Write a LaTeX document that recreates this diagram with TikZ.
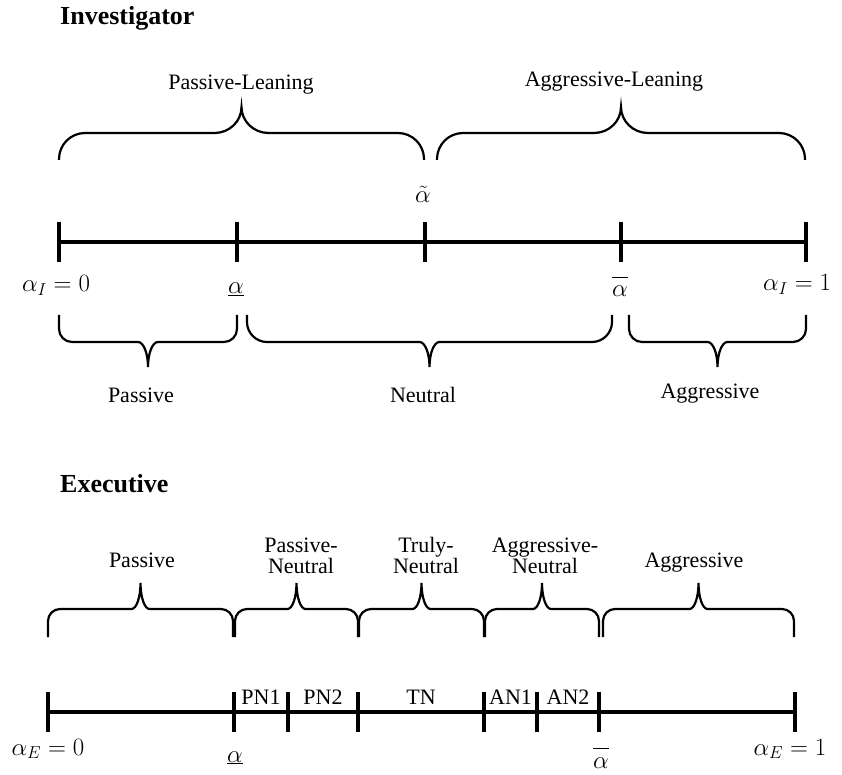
\documentclass[tikz,border=0pt]{standalone}
\usepackage{fontspec}
\setmainfont{Liberation Serif}

% curly bracket: x1, x2, y of the ends, y of the arm, y of the tip, corner, tip width
\newcommand{\hbrace}[7]{%
  \pgfmathsetmacro\brXm{(#1+#2)/2}
  \pgfmathsetmacro\brCy{#4-ifthenelse(#4>#3,1,-1)*#6}
  \pgfmathsetmacro\brCv{.55*(#4-\brCy)}
  \pgfmathsetmacro\brCh{.55*#6}
  \pgfmathsetmacro\brTd{.55*(#4-#5)}
  \pgfmathsetmacro\brTh{.55*#7}
  \draw[brc] (#1,#3) -- (#1,\brCy) .. controls +(0,\brCv) and +(-\brCh,0) .. (#1+#6,#4)
    -- (\brXm-#7,#4) .. controls +(\brTh,0) and +(0,\brTd) .. (\brXm,#5)
    .. controls +(0,\brTd) and +(-\brTh,0) .. (\brXm+#7,#4)
    -- (#2-#6,#4) .. controls +(\brCh,0) and +(0,\brCv) .. (#2,\brCy) -- (#2,#3);
}

\begin{document}
\begin{tikzpicture}[x=1pt,y=1pt,
    numline/.style={line width=4.5pt},
    tickmark/.style={line width=4pt},
    brc/.style={line width=2.2pt},
    lbl/.style={inner sep=0pt,anchor=base,align=center,font=\fontsize{22}{21}\selectfont},
    val/.style={inner sep=0pt,anchor=base,font=\fontsize{26}{30}\selectfont},
    ttl/.style={inner sep=0pt,anchor=base west,font=\bfseries\fontsize{26}{30}\selectfont}]
  \useasboundingbox (0,0) rectangle (842,774);

  % Investigator
  \node[ttl] (inv) at (60,749) {Investigator};
  \coordinate (i0) at (59,532);
  \coordinate (i1) at (237,532);
  \coordinate (i2) at (425,532);
  \coordinate (i3) at (621,532);
  \coordinate (i4) at (806,532);
  \draw[numline] (i0) -- (i4);
  \foreach \p in {i0,i1,i2,i3,i4}
    \draw[tickmark] (\p) ++(0,20) -- ++(0,-40);
  \node[val] (ai0) at (56,482) {$\alpha_I = 0$};
  \node[val] (ai1) at (236,480) {$\underline{\alpha}$};
  \node[val] (ai2) at (423,571) {$\tilde{\alpha}$};
  \node[val] (ai3) at (620,477) {$\overline{\rule{0pt}{18pt}\alpha}$};
  \node[val] (ai4) at (797,483) {$\alpha_I = 1$};

  \hbrace{59}{424}{614}{641}{667}{26}{27}
  \hbrace{437}{805}{614}{641}{667}{26}{27}
  \node[lbl] (pleaning) at (241,684) {Passive-Leaning};
  \node[lbl] (aleaning) at (614,687) {Aggressive-Leaning};

  \hbrace{59}{237}{459}{432}{407}{13}{10}
  \hbrace{247}{612}{459}{432}{407}{20}{10}
  \hbrace{629}{806}{459}{432}{407}{13}{10}
  \node[lbl] (ipas) at (141,371) {Passive};
  \node[lbl] (ineu) at (423,371) {Neutral};
  \node[lbl] (iagg) at (710,375) {Aggressive};

  % Executive
  \node[ttl] (exe) at (60,282) {Executive};
  \hbrace{48}{233}{137}{165}{191}{12}{9}
  \hbrace{235}{358}{137}{165}{191}{12}{9}
  \hbrace{359}{484}{137}{165}{191}{12}{9}
  \hbrace{485}{599}{137}{165}{191}{12}{9}
  \hbrace{603}{794}{137}{165}{191}{12}{9}
  \node[lbl] (epas) at (142,207) {Passive};
  \node[lbl] (epn) at (301,201) {Passive-\\Neutral};
  \node[lbl] (etn) at (426,201) {Truly-\\Neutral};
  \node[lbl] (ean) at (545,201) {Aggressive-\\Neutral};
  \node[lbl] (eagg) at (694,207) {Aggressive};

  \coordinate (e0) at (48,62);
  \coordinate (e1) at (234,62);
  \coordinate (e2) at (288,62);
  \coordinate (e3) at (358,62);
  \coordinate (e4) at (484,62);
  \coordinate (e5) at (537,62);
  \coordinate (e6) at (599,62);
  \coordinate (e7) at (795,62);
  \draw[numline] (e0) -- (e7);
  \foreach \p in {e0,e1,e2,e3,e4,e5,e6,e7}
    \draw[tickmark] (\p) ++(0,20) -- ++(0,-40);
  \node[lbl] (pn1) at (261,70) {PN1};
  \node[lbl] (pn2) at (323,70) {PN2};
  \node[lbl] (tn) at (421,70) {TN};
  \node[lbl] (an1) at (510.5,70) {AN1};
  \node[lbl] (an2) at (568,70) {AN2};
  \node[val] (ae0) at (48,19) {$\alpha_E = 0$};
  \node[val] (ae1) at (235,12) {$\underline{\alpha}$};
  \node[val] (ae6) at (601,6) {$\overline{\rule{0pt}{18pt}\alpha}$};
  \node[val] (ae7) at (790,19) {$\alpha_E = 1$};
\end{tikzpicture}
\end{document}
